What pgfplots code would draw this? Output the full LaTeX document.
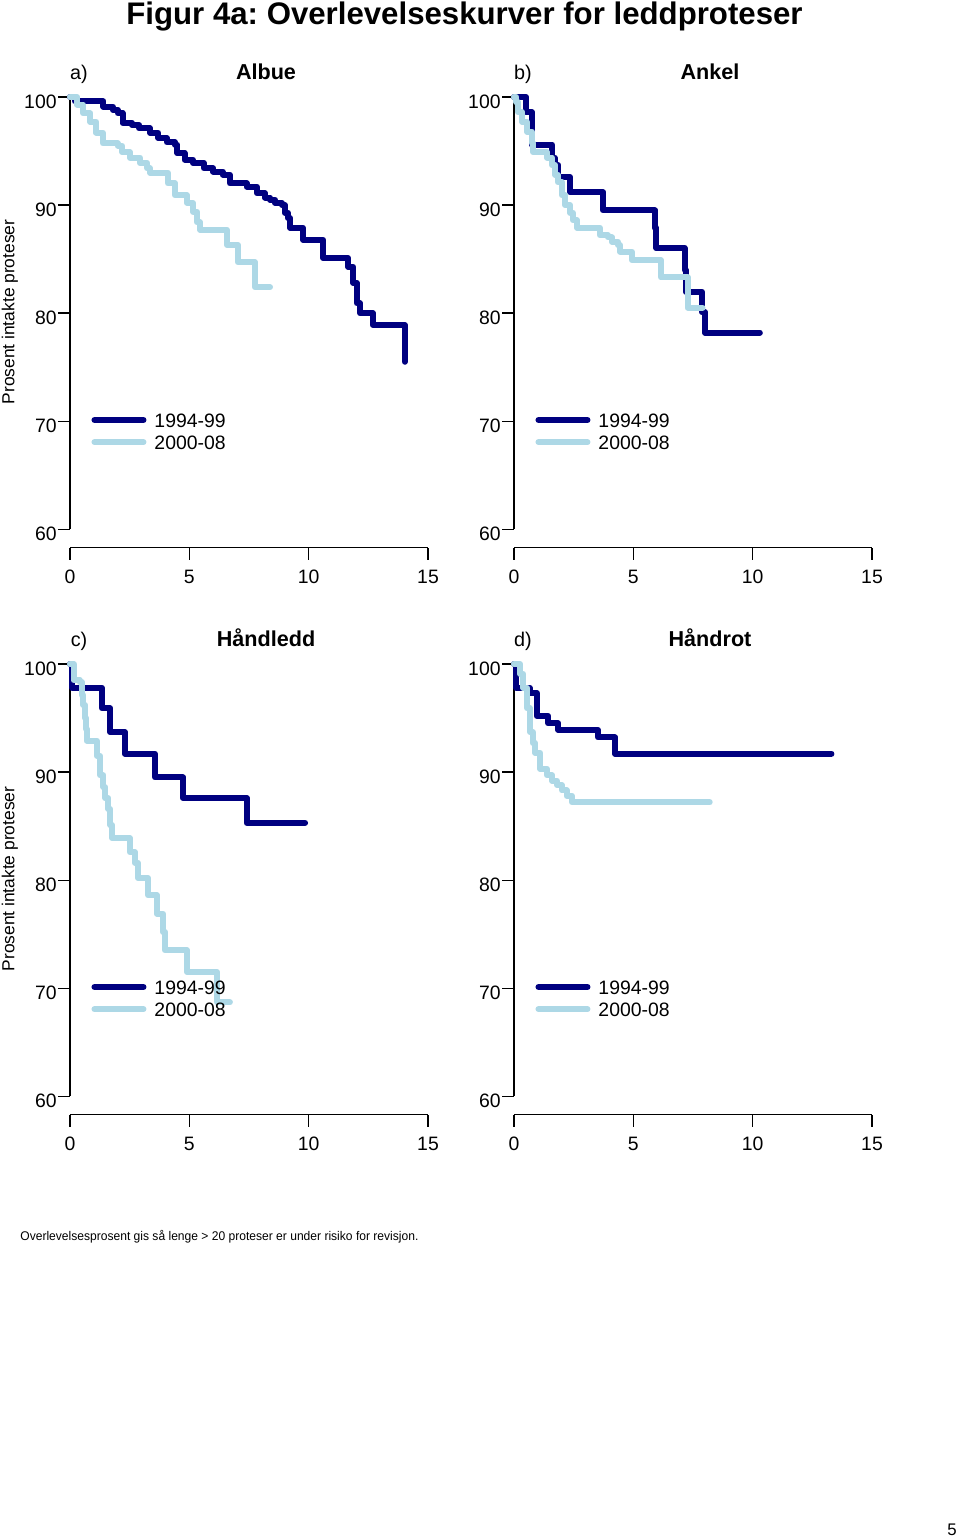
\documentclass[border=0pt]{standalone}
\usepackage{pgfplots}
\pgfplotsset{compat=1.18}
\usepackage{fontspec}
\setmainfont{Liberation Sans}
\frenchspacing
\definecolor{dkc}{HTML}{000080}
\definecolor{ltc}{HTML}{ADD8E6}
\tikzset{
  dkl/.style={color=dkc, line width=3pt, line cap=round, line join=round},
  ltl/.style={color=ltc, line width=3pt, line cap=round, line join=round},
}
\pgfplotsset{
 km/.style={anchor=south west, scale only axis, width=179pt, height=225.35pt,
   xmin=0, xmax=15, ymin=58.297, ymax=100,
   axis x line*=bottom, axis y line*=left, axis line style={draw=none},
   xtick={0,5,10,15}, ytick={60,70,80,90,100},
   tick align=outside, major tick length=6pt,
   tick style={black, line width=0.65pt},
   tick label style={font=\fontsize{9.7}{11}\selectfont},
   /pgf/number format/assume math mode=true,
   xticklabel style={anchor=north, inner sep=0pt, yshift=-5pt},
   yticklabel style={anchor=east, inner sep=0pt, xshift=-0.5pt, yshift=-2.5pt},
   clip=false, const plot, mark=none,
   legend cell align=left,
   legend style={draw=none, fill=none, inner sep=0pt, outer sep=0pt,
     font=\fontsize{9.7}{11}\selectfont,
     at={(axis cs:0.9,70.76)}, anchor=north west,
     row sep=4.1pt, column sep=4pt,
     nodes={inner sep=0pt, text height=7pt, text depth=0pt}},
   legend image code/.code={\draw[##1] (0pt,0pt) -- (24.5pt,0pt);},
 },
}
\newcommand\axlines{%
  \draw[line width=0.65pt] (axis cs:0,60) -- (axis cs:0,100);
  \draw[line width=0.65pt] (axis cs:0,58.297) -- (axis cs:15,58.297);
}
\begin{document}
\begin{tikzpicture}
\path[use as bounding box] (0pt,0pt) rectangle (480pt,-770pt);

\node[anchor=base, font=\fontsize{15.6}{18}\selectfont\bfseries] at (232.25pt,-12.5pt) {Figur 4a: Overlevelseskurver for leddproteser};

% ---- a) Albue
\begin{axis}[km, at={(35pt,-273.85pt)}]
\axlines
\addplot[dkl] coordinates {(0,100) (0.2,99.6) (1.4,99.1) (1.8,98.8) (2.0,98.5) (2.2,97.6) (2.6,97.4) (2.9,97.1) (3.35,96.7) (3.7,96.2) (4.06,95.8) (4.4,95.6) (4.5,94.8) (4.8,94.2) (5.15,93.9) (5.6,93.4) (6.0,93.1) (6.4,92.8) (6.7,92.0) (7.4,91.7) (7.83,91.1) (8.17,90.7) (8.38,90.5) (8.59,90.2) (8.88,90.0) (9.0,89.3) (9.13,88.8) (9.22,87.9) (9.76,86.8) (10.6,85.1) (11.65,84.3) (11.86,82.8) (12.02,80.9) (12.15,80.0) (12.69,78.9) (14.03,75.5)};
\addlegendentry{1994-99}
\addplot[ltl] coordinates {(0,100) (0.3,99.3) (0.55,98.5) (0.85,97.7) (1.1,96.7) (1.38,95.7) (2.0,95.5) (2.18,94.9) (2.51,94.4) (2.93,93.9) (3.23,93.4) (3.35,93.0) (4.1,92.0) (4.4,90.9) (4.9,90.2) (5.15,89.4) (5.32,88.4) (5.45,87.7) (6.58,86.3) (7.04,84.7) (7.75,82.4) (8.38,82.4)};
\addlegendentry{2000-08}
\end{axis}

% ---- b) Ankel
\begin{axis}[km, at={(257pt,-273.85pt)}]
\axlines
\addplot[dkl] coordinates {(0,100) (0.5,98.6) (0.75,95.6) (1.6,94.4) (1.7,93.7) (1.85,92.6) (2.35,91.2) (3.73,89.5) (5.9,87.9) (5.97,86.0) (7.15,84.0) (7.2,82.0) (7.87,80.1) (8.0,78.2) (10.3,78.2)};
\addlegendentry{1994-99}
\addplot[ltl] coordinates {(0,100) (0.1,99.5) (0.17,98.6) (0.34,97.7) (0.54,96.8) (0.75,95.7) (0.8,94.9) (1.38,94.4) (1.59,93.7) (1.72,92.8) (1.84,92.1) (2.01,90.9) (2.14,90.0) (2.35,89.3) (2.47,88.6) (2.64,87.9) (3.6,87.2) (3.94,87.0) (4.1,86.6) (4.36,86.3) (4.44,85.7) (4.94,84.9) (6.15,83.3) (7.28,80.5) (7.9,80.5)};
\addlegendentry{2000-08}
\end{axis}

% ---- c) Handledd
\begin{axis}[km, at={(35pt,-557.35pt)}]
\axlines
\addplot[dkl] coordinates {(0,100) (0.1,97.8) (1.34,95.9) (1.68,93.7) (2.3,91.7) (3.56,89.5) (4.73,87.6) (7.4,85.3) (9.85,85.3)};
\addlegendentry{1994-99}
\addplot[ltl] coordinates {(0,100) (0.15,98.5) (0.4,98.3) (0.5,97.1) (0.56,96.2) (0.63,95.0) (0.67,94.0) (0.7,92.9) (1.13,91.5) (1.26,89.7) (1.4,88.6) (1.47,87.6) (1.6,86.6) (1.68,85.1) (1.76,83.9) (2.5,82.6) (2.72,81.6) (2.85,80.2) (3.27,78.6) (3.64,76.9) (3.9,75.2) (3.98,73.5) (4.9,71.5) (6.16,68.7) (6.7,68.7)};
\addlegendentry{2000-08}
\end{axis}

% ---- d) Handrot
\begin{axis}[km, at={(257pt,-557.35pt)}]
\axlines
\addplot[dkl] coordinates {(0,100) (0.1,97.8) (0.65,97.3) (0.95,95.2) (1.43,94.5) (1.85,93.9) (3.52,93.2) (4.23,91.7) (13.3,91.7)};
\addlegendentry{1994-99}
\addplot[ltl] coordinates {(0,100) (0.25,99.1) (0.38,97.8) (0.55,95.9) (0.67,93.7) (0.78,92.7) (0.88,91.8) (1.09,90.3) (1.38,89.7) (1.6,89.2) (1.8,88.8) (2.0,88.3) (2.2,87.8) (2.43,87.2) (8.2,87.2)};
\addlegendentry{2000-08}
\end{axis}

% panel labels
\begin{scope}[every node/.style={anchor=base}]
\node[font=\fontsize{9.9}{12}\selectfont] at (39.5pt,-39.75pt) {a)};
\node[font=\fontsize{10.8}{13}\selectfont\bfseries] at (133pt,-39.75pt) {Albue};
\node[font=\fontsize{9.9}{12}\selectfont] at (261.5pt,-39.75pt) {b)};
\node[font=\fontsize{10.8}{13}\selectfont\bfseries] at (355pt,-39.75pt) {Ankel};
\node[font=\fontsize{9.9}{12}\selectfont] at (39.5pt,-323.25pt) {c)};
\node[font=\fontsize{10.8}{13}\selectfont\bfseries] at (133pt,-323.25pt) {Håndledd};
\node[font=\fontsize{9.9}{12}\selectfont] at (261.5pt,-323.25pt) {d)};
\node[font=\fontsize{10.8}{13}\selectfont\bfseries] at (355pt,-323.25pt) {Håndrot};
\end{scope}
\node[rotate=90, font=\fontsize{8.7}{10}\selectfont] at (5pt,-156pt) {Prosent intakte proteser};
\node[rotate=90, font=\fontsize{8.7}{10}\selectfont] at (5pt,-439.5pt) {Prosent intakte proteser};

\node[anchor=base west, inner sep=0pt, font=\fontsize{6.3}{8}\selectfont] at (10pt,-620pt) {\resizebox{199pt}{\height}{Overlevelsesprosent gis så lenge > 20 proteser er under risiko for revisjon.}};
\node[font=\fontsize{8.4}{10}\selectfont] at (476pt,-765pt) {5};
\end{tikzpicture}
\end{document}
